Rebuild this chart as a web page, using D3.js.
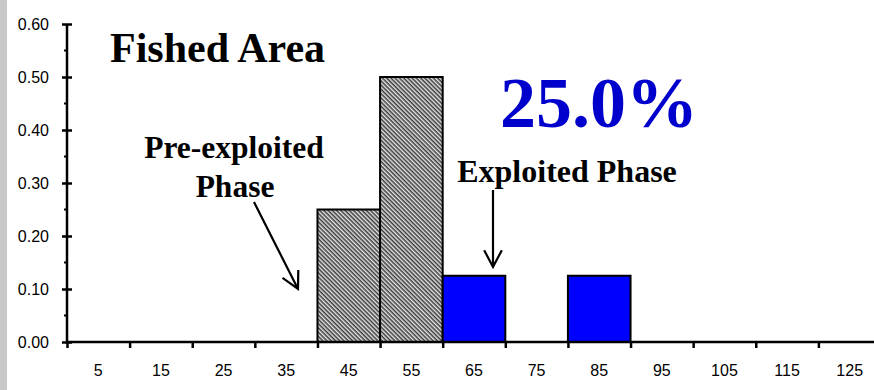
<!DOCTYPE html>
<html>
<head>
<meta charset="utf-8">
<script src="https://cdn.jsdelivr.net/npm/d3@7"></script>
<style>
  html, body { margin: 0; padding: 0; background: #fff; }
  svg { display: block; }
</style>
</head>
<body>
<svg id="chart" width="874" height="390"></svg>
<script>
// Length-frequency histogram for the fished area (10 cm classes)
const binStarts = [0, 10, 20, 30, 40, 50, 60, 70, 80, 90, 100, 110, 120];
const binLabels = ["5", "15", "25", "35", "45", "55", "65", "75", "85", "95", "105", "115", "125"];
const proportions = [0, 0, 0, 0, 0.25, 0.50, 0.125, 0, 0.125, 0, 0, 0, 0];
const phases = ["pre", "pre", "pre", "pre", "pre", "pre", "exp", "exp", "exp", "exp", "exp", "exp", "exp"];
const yTicks = [0, 0.1, 0.2, 0.3, 0.4, 0.5, 0.6];
const yMinorTicks = [0.05, 0.15, 0.25, 0.35, 0.45, 0.55];
const binWidth = 10;
const percentLabel = "25.0%";

const svg = d3.select("#chart");
const W = 874, H = 390;

// grey strip down the left edge
svg.append("rect").attr("x", 0).attr("y", 0).attr("width", 7).attr("height", H).attr("fill", "#c8c8c8");

const x = d3.scaleLinear().domain([0, 130]).range([67, 881]);
const y = d3.scaleLinear().domain([0, 0.6]).range([342, 24]);

// diagonal hatching for the pre-exploited phase
const defs = svg.append("defs");
const pat = defs.append("pattern")
  .attr("id", "hatch").attr("patternUnits", "userSpaceOnUse")
  .attr("width", 3).attr("height", 3)
  .attr("patternTransform", "rotate(45)");
pat.append("rect").attr("width", 3).attr("height", 3).attr("fill", "#e6e6e6");
pat.append("line").attr("x1", 0).attr("y1", 0.8).attr("x2", 3).attr("y2", 0.8)
  .attr("stroke", "#2a2a2a").attr("stroke-width", 1.4);

const bins = binStarts.map((s, i) => ({ start: s, value: proportions[i], phase: phases[i], label: binLabels[i] }));

// bars
svg.append("g").selectAll("rect")
  .data(bins.filter(d => d.value > 0))
  .join("rect")
  .attr("x", d => x(d.start))
  .attr("y", d => y(d.value))
  .attr("width", d => x(d.start + binWidth) - x(d.start))
  .attr("height", d => y(0) - y(d.value))
  .attr("fill", d => d.phase === "pre" ? "url(#hatch)" : "#0000ff")
  .attr("stroke", "#000")
  .attr("stroke-width", 2);

const sans = "Liberation Sans, Arial, sans-serif";

// y axis
const yAxis = svg.append("g").attr("transform", `translate(${x(0)},0)`)
  .call(d3.axisLeft(y).tickValues(yTicks).tickFormat(d3.format(".2f")).tickSize(5).tickPadding(13));
yAxis.select(".domain").attr("stroke-width", 2.5).attr("d", `M0,${y(0.6)}V${y(0)}`);
yAxis.selectAll(".tick line").attr("x1", -5).attr("x2", 5).attr("stroke-width", 2.5);
yAxis.selectAll(".tick text")
  .style("font-family", sans).style("font-size", "16px")
  .attr("fill", "#000").attr("dy", "0.34em");
svg.append("g").selectAll("line").data(yMinorTicks).join("line")
  .attr("x1", x(0) - 3).attr("x2", x(0))
  .attr("y1", d => y(d)).attr("y2", d => y(d))
  .attr("stroke", "#000").attr("stroke-width", 2);

// x axis: ticks on class boundaries, labels at class midpoints
const xAxisG = svg.append("g").attr("transform", `translate(0,${y(0)})`);
xAxisG.append("line").attr("x1", x(0) - 1).attr("x2", W).attr("y1", 0).attr("y2", 0)
  .attr("stroke", "#000").attr("stroke-width", 2.5);
xAxisG.call(g => g.append("g")
  .call(d3.axisBottom(x).tickValues(binStarts.concat([130])).tickSize(6).tickFormat(""))
  .call(a => a.select(".domain").remove())
  .call(a => a.selectAll(".tick line").attr("stroke-width", 2.5)));
xAxisG.append("g").selectAll("text").data(bins).join("text")
  .attr("x", d => x(d.start + binWidth / 2))
  .attr("y", 33.5)
  .attr("text-anchor", "middle")
  .style("font-family", sans)
  .style("font-size", "16px")
  .text(d => d.label);

// annotations
const serif = "Liberation Serif, Times New Roman, serif";
svg.append("text").attr("x", 110).attr("y", 62)
  .attr("font-family", serif).attr("font-weight", "bold").attr("font-size", 42)
  .text("Fished Area");
svg.append("text").attr("x", 599).attr("y", 127).attr("text-anchor", "middle")
  .attr("font-family", serif).attr("font-weight", "bold").attr("font-size", 72)
  .attr("fill", "#0000cc").text(percentLabel);
svg.append("text").attr("x", 234).attr("y", 158).attr("text-anchor", "middle")
  .attr("font-family", serif).attr("font-weight", "bold").attr("font-size", 31.5)
  .text("Pre-exploited");
svg.append("text").attr("x", 235).attr("y", 197).attr("text-anchor", "middle")
  .attr("font-family", serif).attr("font-weight", "bold").attr("font-size", 31.5)
  .text("Phase");
svg.append("text").attr("x", 567).attr("y", 182).attr("text-anchor", "middle")
  .attr("font-family", serif).attr("font-weight", "bold").attr("font-size", 32)
  .text("Exploited Phase");

// arrows with open V heads
function arrow(x1, y1, x2, y2) {
  const a = Math.atan2(y2 - y1, x2 - x1), len = 19, spread = Math.PI / 6.5;
  const p = d3.path();
  p.moveTo(x1, y1); p.lineTo(x2, y2);
  p.moveTo(x2 - len * Math.cos(a - spread), y2 - len * Math.sin(a - spread));
  p.lineTo(x2, y2);
  p.lineTo(x2 - len * Math.cos(a + spread), y2 - len * Math.sin(a + spread));
  svg.append("path").attr("d", p.toString()).attr("fill", "none")
    .attr("stroke", "#000").attr("stroke-width", 2.2).attr("stroke-linejoin", "miter");
}
arrow(254, 202, 298, 289);
arrow(493, 190, 493, 267);
</script>
</body>
</html>
